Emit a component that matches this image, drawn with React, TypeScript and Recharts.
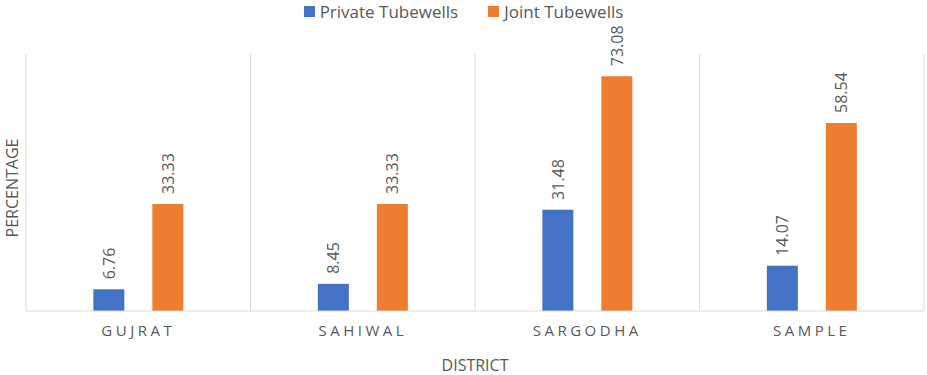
import React from "react";
import { BarChart, Bar, XAxis, YAxis, CartesianGrid, Legend, LabelList } from "recharts";

const districts = ["GUJRAT", "SAHIWAL", "SARGODHA", "SAMPLE"];
const privateTubewells = [6.76, 8.45, 31.48, 14.07];
const jointTubewells = [33.33, 33.33, 73.08, 58.54];
const seriesNames = ["Private Tubewells", "Joint Tubewells"];
const seriesColors = ["#4472C4", "#ED7D31"];

const data = districts.map((d, i) => ({
  district: d,
  private: privateTubewells[i],
  joint: jointTubewells[i],
}));

const FONT = "'Open Sans', 'Liberation Sans', sans-serif";
const TEXT = "#595959";
const GRID = "#d9d9d9";

// rotated value label sitting above each bar
const ValueLabel = (props: any) => {
  const { x, y, width, value } = props;
  const cx = x + width / 2;
  const ty = y - 10;
  return (
    <text
      x={cx}
      y={ty}
      transform={`rotate(-90 ${cx} ${ty})`}
      textAnchor="start"
      dominantBaseline="central"
      fill={TEXT}
      fontSize={16}
      fontFamily={FONT}
    >
      {value.toFixed(2)}
    </text>
  );
};

const CategoryTick = ({ x, y, payload }: any) => (
  <text
    x={x}
    y={y + 17}
    textAnchor="middle"
    fill={TEXT}
    fontSize={15}
    fontFamily={FONT}
    letterSpacing={3.5}
  >
    {payload.value}
  </text>
);

// fixed order legend, same as the series
const LegendContent = () => (
  <div style={{ display: "flex", justifyContent: "center", gap: 30, fontFamily: FONT, fontSize: 17, color: TEXT }}>
    {seriesNames.map((n, i) => (
      <div key={n} style={{ display: "flex", alignItems: "center", gap: 5 }}>
        <span style={{ display: "inline-block", width: 11, height: 11, background: seriesColors[i] }} />
        <span>{n}</span>
      </div>
    ))}
  </div>
);

export default function App() {
  return (
    <div style={{ position: "absolute", left: 0, top: 0, width: 927, height: 375, background: "#fff" }}>
      <BarChart
        width={927}
        height={375}
        data={data}
        margin={{ top: 31, right: 3, bottom: 0, left: 26 }}
        barCategoryGap="30%"
        barGap={28}
      >
        <CartesianGrid
          horizontal={false}
          stroke={GRID}
          verticalCoordinatesGenerator={({ offset }: any) =>
            districts.map((_, i) => offset.left + (i * offset.width) / districts.length).concat(offset.left + offset.width)
          }
        />
        <XAxis
          dataKey="district"
          height={64}
          axisLine={{ stroke: GRID }}
          tickLine={false}
          tick={<CategoryTick />}
          label={{
            value: "DISTRICT",
            position: "insideBottom",
            offset: 4,
            style: { fill: TEXT, fontSize: 16, fontFamily: FONT },
          }}
        />
        <YAxis hide domain={[0, 80]} />
        <Legend
          verticalAlign="top"
          content={<LegendContent />}
          wrapperStyle={{ top: 0, left: 0, width: 927 }}
        />
        <Bar dataKey="private" name={seriesNames[0]} fill={seriesColors[0]} isAnimationActive={false}>
          <LabelList dataKey="private" content={<ValueLabel />} />
        </Bar>
        <Bar dataKey="joint" name={seriesNames[1]} fill={seriesColors[1]} isAnimationActive={false}>
          <LabelList dataKey="joint" content={<ValueLabel />} />
        </Bar>
      </BarChart>
      <div
        style={{
          position: "absolute",
          left: 12,
          top: 188,
          transform: "translate(-50%, -50%) rotate(-90deg)",
          color: TEXT,
          fontSize: 16,
          fontFamily: FONT,
          whiteSpace: "nowrap",
        }}
      >
        PERCENTAGE
      </div>
    </div>
  );
}
